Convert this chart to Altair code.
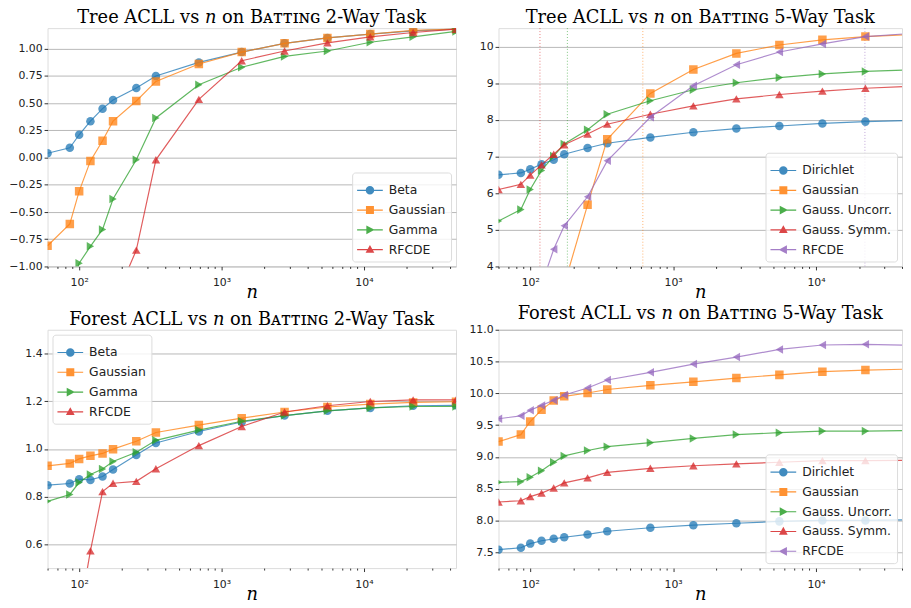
import altair as alt
import pandas as pd

N = [60, 86, 100, 120, 146, 173, 252, 346, 693, 1386, 2772, 5544, 11088, 22176, 44352]

# Tree ACLL, 2-way task
tree2_names = ["Beta", "Gaussian", "Gamma", "RFCDE"]
tree2_beta = [0.04, 0.09, 0.21, 0.335, 0.45, 0.53, 0.64, 0.75, 0.875, 0.97, 1.05, 1.10, 1.135, 1.165, 1.18]
tree2_gauss = [-0.81, -0.61, -0.31, -0.03, 0.155, 0.335, 0.52, 0.70, 0.86, 0.97, 1.05, 1.10, 1.135, 1.17, 1.18]
tree2_gamma = [None, -1.25, -0.97, -0.815, -0.66, -0.38, -0.02, 0.365, 0.67, 0.83, 0.93, 0.98, 1.06, 1.11, 1.16]
tree2_rfcde = [None, None, None, None, None, -1.35, -0.85, -0.02, 0.535, 0.89, 0.98, 1.055, 1.11, 1.15, 1.18]

# Tree ACLL, 5-way task
tree5_names = ["Dirichlet", "Gaussian", "Gauss. Uncorr.", "Gauss. Symm.", "RFCDE"]
tree5_dir = [6.50, 6.55, 6.65, 6.79, 6.91, 7.06, 7.23, 7.36, 7.52, 7.66, 7.76, 7.83, 7.90, 7.95, 7.98]
tree5_gauss = [None, None, None, None, None, 3.5, 5.68, 7.47, 8.72, 9.37, 9.81, 10.04, 10.18, 10.27, 10.32]
tree5_uncorr = [5.24, 5.55, 6.10, 6.62, 7.01, 7.34, 7.73, 8.15, 8.52, 8.82, 9.01, 9.15, 9.25, 9.32, 9.36]
tree5_symm = [6.10, 6.24, 6.49, 6.77, 7.06, 7.32, 7.61, 7.88, 8.15, 8.38, 8.57, 8.69, 8.78, 8.86, 8.91]
tree5_rfcde = [None, None, None, 3.5, 4.47, 5.11, 5.90, 6.88, 8.07, 8.93, 9.50, 9.85, 10.07, 10.27, 10.35]
tree5_cross_n = [117, 182, 614, 22000]
tree5_cross_color = ["#d62728", "#2ca02c", "#ff7f0e", "#9467bd"]

# Forest ACLL, 2-way task
forest2_beta = [0.848, 0.855, 0.873, 0.870, 0.884, 0.914, 0.975, 1.025, 1.073, 1.113, 1.14, 1.16, 1.172, 1.181, 1.183]
forest2_gauss = [0.929, 0.939, 0.958, 0.971, 0.981, 0.999, 1.032, 1.069, 1.10, 1.129, 1.155, 1.176, 1.188, 1.195, 1.198]
forest2_gamma = [0.78, 0.809, 0.859, 0.893, 0.916, 0.947, 0.986, 1.036, 1.079, 1.116, 1.14, 1.16, 1.172, 1.178, 1.178]
forest2_rfcde = [None, None, 0.30, 0.572, 0.821, 0.856, 0.864, 0.917, 1.014, 1.094, 1.155, 1.181, 1.199, 1.206, 1.206]

# Forest ACLL, 5-way task
forest5_dir = [7.54, 7.57, 7.635, 7.68, 7.71, 7.735, 7.78, 7.83, 7.885, 7.925, 7.955, 7.985, 8.0, 8.0, 8.01]
forest5_gauss = [9.24, 9.35, 9.556, 9.74, 9.885, 9.953, 10.005, 10.06, 10.125, 10.18, 10.24, 10.29, 10.34, 10.365, 10.38]
forest5_uncorr = [8.6, 8.61, 8.68, 8.78, 8.915, 9.015, 9.10, 9.16, 9.224, 9.29, 9.35, 9.38, 9.405, 9.405, 9.415]
forest5_symm = [8.29, 8.31, 8.375, 8.43, 8.51, 8.59, 8.67, 8.755, 8.82, 8.86, 8.89, 8.915, 8.94, 8.94, 8.945]
forest5_rfcde = [9.60, 9.645, 9.734, 9.81, 9.89, 9.974, 10.083, 10.21, 10.33, 10.46, 10.57, 10.69, 10.76, 10.77, 10.755]

COLORS = ["#1f77b4", "#ff7f0e", "#2ca02c", "#d62728", "#9467bd"]
SHAPES_2 = ["circle", "square", "triangle-right", "triangle-up"]
SHAPES_5 = ["circle", "square", "triangle-right", "triangle-up", "triangle-left"]

STUB = "M-1,-0.045H1V0.045H-1Z"
P_CIRCLE = STUB + "M0.33,0A0.33,0.33,0,1,1,-0.33,0A0.33,0.33,0,1,1,0.33,0Z"
P_SQUARE = STUB + "M-0.31,-0.31H0.31V0.31H-0.31Z"
P_RIGHT = STUB + "M-0.28,-0.34L0.36,0L-0.28,0.34Z"
P_UP = STUB + "M0,-0.36L0.34,0.25L-0.34,0.25Z"
P_LEFT = STUB + "M0.28,-0.34L0.28,0.34L-0.36,0Z"
LEG_2 = [P_CIRCLE, P_SQUARE, P_RIGHT, P_UP]
LEG_5 = [P_CIRCLE, P_SQUARE, P_RIGHT, P_UP, P_LEFT]

X_MAJOR = [100, 1000, 10000]
X_MINOR = [60, 70, 80, 90, 200, 300, 400, 500, 600, 700, 800, 900,
           2000, 3000, 4000, 5000, 6000, 7000, 8000, 9000, 20000, 30000, 40000]

SERIF = "DejaVu Serif"
SANS = "DejaVu Sans"
H = 241
IS_MAJOR = "datum.value==100||datum.value==1000||datum.value==10000"


def panel(title, names, series, shapes, legpaths, ydom, yvals, yfmt,
          legend_orient, xmax, width, yextent, rules=None):
    rows = []
    for name, vals in zip(names, series):
        for n, v in zip(N, vals):
            if v is not None:
                rows.append({"n": n, "v": v, "s": name})
    df = pd.DataFrame(rows)

    xaxis = alt.Axis(
        values=X_MAJOR + X_MINOR,
        labelExpr="datum.value==100?'10²':datum.value==1000?'10³':datum.value==10000?'10⁴':''",
        grid=False, domain=False, tickColor="#000",
        tickSize={"condition": {"test": IS_MAJOR, "value": 3.5}, "value": 2},
        tickWidth=0.8,
        labelFont=SANS, labelFontSize=11, labelColor="#222", labelPadding=7,
        labelOverlap=False, labelFlush=False,
        title="n", titleFont=SERIF, titleFontStyle="italic", titleFontSize=18,
        titleFontWeight="normal", titlePadding=-4, titleColor="#000",
    )
    yaxis = alt.Axis(
        values=yvals, format=yfmt, grid=True, gridColor="#b0b0b0",
        gridWidth=0.9, domain=False, tickColor="#000", tickSize=3.5, tickWidth=0.8,
        labelFont=SANS, labelFontSize=11, labelColor="#222", labelPadding=2,
        title=None, minExtent=yextent,
    )
    x = alt.X("n:Q", scale=alt.Scale(type="log", domain=[60, xmax]), axis=xaxis)
    y = alt.Y("v:Q", scale=alt.Scale(domain=ydom, nice=False, zero=False), axis=yaxis)

    layers = []
    if rules is not None:
        rdf = pd.DataFrame({"n": rules[0], "c": rules[1]})
        layers.append(
            alt.Chart(rdf).mark_rule(strokeDash=[1, 2], strokeWidth=1, opacity=0.6, clip=True)
            .encode(x=x, stroke=alt.Stroke("c:N", scale=None, legend=None))
        )
    for i, name in enumerate(names):
        base = alt.Chart(df).transform_filter(alt.datum.s == name)
        layers.append(base.mark_line(color=COLORS[i], strokeWidth=1.2, opacity=0.75, clip=True)
                      .encode(x=x, y=y))
        layers.append(base.mark_point(shape=shapes[i], filled=True, size=74, color=COLORS[i],
                                      opacity=0.75, clip=True).encode(x=x, y=y))
    leg = alt.Legend(
        title=None, orient=legend_orient, offset=5, labelFont=SANS, labelFontSize=12.5,
        labelColor="#222", symbolSize=676, symbolStrokeWidth=0, rowPadding=0,
        padding=5, fillColor="rgba(255,255,255,0.8)", strokeColor="#dcdcdc",
        cornerRadius=3, labelOffset=6, symbolOpacity=0.85,
    )
    layers.append(
        alt.Chart(df).transform_filter("false").mark_point(filled=True, size=676, opacity=0.85)
        .encode(x=x, y=y,
                color=alt.Color("s:N", scale=alt.Scale(domain=names, range=COLORS[:len(names)]), legend=leg),
                shape=alt.Shape("s:N", scale=alt.Scale(domain=names, range=legpaths), legend=leg))
    )
    return alt.layer(*layers).properties(
        width=width, height=H,
        title=alt.TitleParams(title, font=SERIF, fontSize=18, fontWeight="normal",
                              color="#000", offset=1, anchor="middle"),
    )


p1 = panel("Tree ACLL vs 𝑛 on Bᴀᴛᴛɪɴɢ 2-Way Task", tree2_names,
           [tree2_beta, tree2_gauss, tree2_gamma, tree2_rfcde], SHAPES_2, LEG_2,
           [-1.0, 1.19], [-1.0, -0.75, -0.5, -0.25, 0.0, 0.25, 0.5, 0.75, 1.0], ".2f",
           "bottom-right", 44352, 413, 39)
p2 = panel("Tree ACLL vs 𝑛 on Bᴀᴛᴛɪɴɢ 5-Way Task", tree5_names,
           [tree5_dir, tree5_gauss, tree5_uncorr, tree5_symm, tree5_rfcde], SHAPES_5, LEG_5,
           [4.0, 10.5], [4, 5, 6, 7, 8, 9, 10], "d",
           "bottom-right", 40000, 408, 0, rules=(tree5_cross_n, tree5_cross_color))
p3 = panel("Forest ACLL vs 𝑛 on Bᴀᴛᴛɪɴɢ 2-Way Task", tree2_names,
           [forest2_beta, forest2_gauss, forest2_gamma, forest2_rfcde], SHAPES_2, LEG_2,
           [0.5, 1.5], [0.6, 0.8, 1.0, 1.2, 1.4], ".1f",
           "top-left", 44352, 413, 39)
p4 = panel("Forest ACLL vs 𝑛 on Bᴀᴛᴛɪɴɢ 5-Way Task", tree5_names,
           [forest5_dir, forest5_gauss, forest5_uncorr, forest5_symm, forest5_rfcde], SHAPES_5, LEG_5,
           [7.25, 11.0], [7.5, 8.0, 8.5, 9.0, 9.5, 10.0, 10.5, 11.0], ".1f",
           "bottom-right", 40000, 408, 0)

chart = alt.concat(p1, p2, p3, p4, columns=2, bounds="flush",
                   spacing={"row": 64, "column": 43}).properties(
    padding={"left": 0, "top": -3, "right": 0, "bottom": 0}
).resolve_scale(color="independent", shape="independent").configure_view(
    stroke="#222", strokeWidth=1
).configure(background="white")

chart.save("out.html", embed_options={"renderer": "svg", "actions": False})
